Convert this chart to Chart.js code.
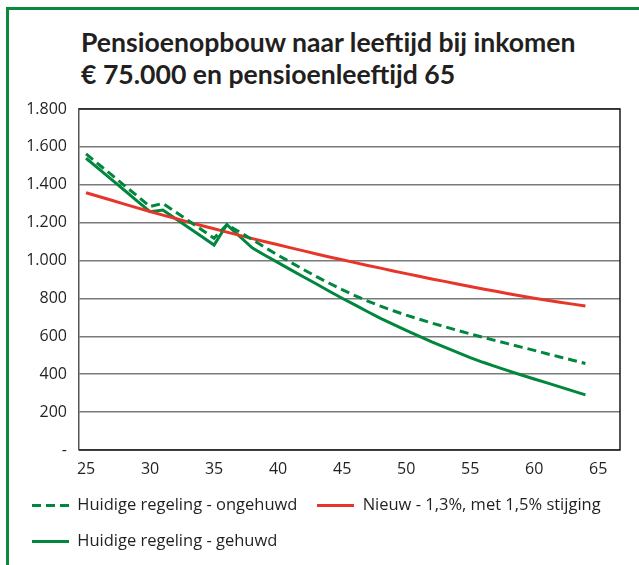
<!DOCTYPE html>
<html>
<head>
<meta charset="utf-8">
<script src="https://cdn.jsdelivr.net/npm/chart.js@4.4.1/dist/chart.umd.min.js"></script>
<style>
  html, body { margin: 0; padding: 0; background: #fff; }
  #wrap { position: relative; width: 639px; height: 565px; overflow: hidden; background: #fff; }
  #frame { position: absolute; left: 6px; top: 7px; width: 700px; height: 700px;
           border-top: 3px solid #0b8a3e; border-left: 3px solid #0b8a3e; box-sizing: border-box; }
  #title { position: absolute; left: 81px; top: 26px; margin: 0; font-family: Lato, "Open Sans", sans-serif;
           font-weight: 700; font-size: 26.6px; line-height: 32px; color: #231f20; white-space: nowrap; }
  canvas { position: absolute; left: 0; top: 0; }
</style>
</head>
<body>
<div id="wrap">
  <div id="frame"></div>
  <h1 id="title">Pensioenopbouw naar leeftijd bij inkomen<br>€ 75.000 en pensioenleeftijd 65</h1>
  <canvas id="c" width="639" height="565"></canvas>
</div>
<script>
const ages = [25,26,27,28,29,30,31,32,33,34,35,36,37,38,39,40,41,42,43,44,45,46,47,48,49,50,51,52,53,54,55,56,57,58,59,60,61,62,63,64];
const ongehuwd = [1563,1507,1452,1396,1341,1285,1302,1256,1210,1164,1118,1190,1150,1110,1068,1028,990,952,915,880,846,815,786,759,735,712,691,670,651,632,613,595,577,560,543,526,508,491,474,457];
const nieuw = [1358,1338,1318,1298,1278,1259,1240,1222,1203,1185,1168,1150,1133,1116,1099,1083,1067,1051,1035,1019,1004,989,974,960,945,931,917,903,890,876,863,850,838,825,813,801,790,780,770,760];
const gehuwd = [1540,1484,1427,1371,1314,1258,1267,1221,1175,1128,1082,1190,1127,1066,1027,989,951,913,876,838,801,766,730,695,663,632,601,571,543,515,488,463,440,418,396,375,354,333,312,291];
const seriesNames = ['Huidige regeling - ongehuwd', 'Nieuw - 1,3%, met 1,5% stijging', 'Huidige regeling - gehuwd'];
const xTicks = [25,30,35,40,45,50,55,60,65];
const yTicks = [0,200,400,600,800,1000,1200,1400,1600,1800];
const yTickLabels = ['-','200','400','600','800','1.000','1.200','1.400','1.600','1.800'];

const GREEN = '#00873d';
const RED = '#e8352a';
const DASH = [9,5];

const pts = arr => ages.map((a, i) => ({x: a, y: arr[i]}));

function legendLine(color, dash) {
  const cv = document.createElement('canvas');
  cv.width = 37; cv.height = 3;
  const g = cv.getContext('2d');
  g.strokeStyle = color; g.lineWidth = 3;
  g.setLineDash(dash);
  g.beginPath(); g.moveTo(0, 1.5); g.lineTo(37, 1.5); g.stroke();
  return cv;
}
const legendImgs = [legendLine(GREEN, DASH), legendLine(RED, []), legendLine(GREEN, [])];

const boxPlugin = {
  id: 'plotBox',
  afterDraw(chart) {
    const {ctx, chartArea: a} = chart;
    ctx.save();
    ctx.strokeStyle = '#1a1a1a';
    ctx.lineWidth = 1.5;
    ctx.beginPath();
    ctx.moveTo(a.left, a.top); ctx.lineTo(a.right, a.top);
    ctx.lineTo(a.right, a.bottom); ctx.lineTo(a.left, a.bottom);
    ctx.stroke();
    ctx.restore();
  }
};

new Chart(document.getElementById('c'), {
  type: 'line',
  data: {
    datasets: [
      { label: seriesNames[0], data: pts(ongehuwd), borderColor: GREEN, backgroundColor: GREEN,
        borderWidth: 3, borderDash: DASH, pointRadius: 0, tension: 0 },
      { label: seriesNames[1], data: pts(nieuw), borderColor: RED, backgroundColor: RED,
        borderWidth: 3, pointRadius: 0, tension: 0 },
      { label: seriesNames[2], data: pts(gehuwd), borderColor: GREEN, backgroundColor: GREEN,
        borderWidth: 3, pointRadius: 0, tension: 0 }
    ]
  },
  options: {
    responsive: false,
    animation: false,
    events: [],
    layout: { padding: { top: 109, left: 12, right: 5, bottom: 5 } },
    plugins: {
      title: { display: false },
      tooltip: { enabled: false },
      legend: {
        display: true,
        position: 'bottom',
        align: 'start',
        labels: {
          usePointStyle: true,
          pointStyleWidth: 37,
          padding: 20,
          color: '#231f20',
          font: { family: '"Open Sans"', size: 16.5 },
          generateLabels: chart => {
            const items = Chart.defaults.plugins.legend.labels.generateLabels(chart);
            items.forEach(it => { it.pointStyle = legendImgs[it.datasetIndex]; });
            return items;
          }
        }
      }
    },
    scales: {
      x: {
        type: 'linear',
        min: 24.45,
        max: 66.7,
        afterBuildTicks: s => { s.ticks = xTicks.map(v => ({value: v})); },
        afterFit: s => { s.height = 27; },
        grid: { display: false, drawTicks: false },
        border: { display: false },
        ticks: { padding: 10, color: '#231f20', font: { family: '"Open Sans"', size: 16 },
                 maxRotation: 0, autoSkip: false, callback: v => String(v) }
      },
      y: {
        min: 0,
        max: 1800,
        afterBuildTicks: s => { s.ticks = yTicks.map(v => ({value: v})); },
        afterFit: s => { s.width = 67; },
        grid: { color: '#7a7a7a', lineWidth: 1.5, drawTicks: false },
        border: { display: true, color: '#555', width: 1.5 },
        ticks: { padding: 12, color: '#231f20', font: { family: '"Open Sans"', size: 16 },
                 callback: v => yTickLabels[yTicks.indexOf(v)] }
      },
      yRight: {
        position: 'right',
        min: 0,
        max: 1800,
        afterFit: s => { s.width = 14; },
        grid: { display: false, drawTicks: false },
        border: { display: false },
        ticks: { display: false }
      }
    }
  },
  plugins: [boxPlugin]
});
</script>
</body>
</html>
